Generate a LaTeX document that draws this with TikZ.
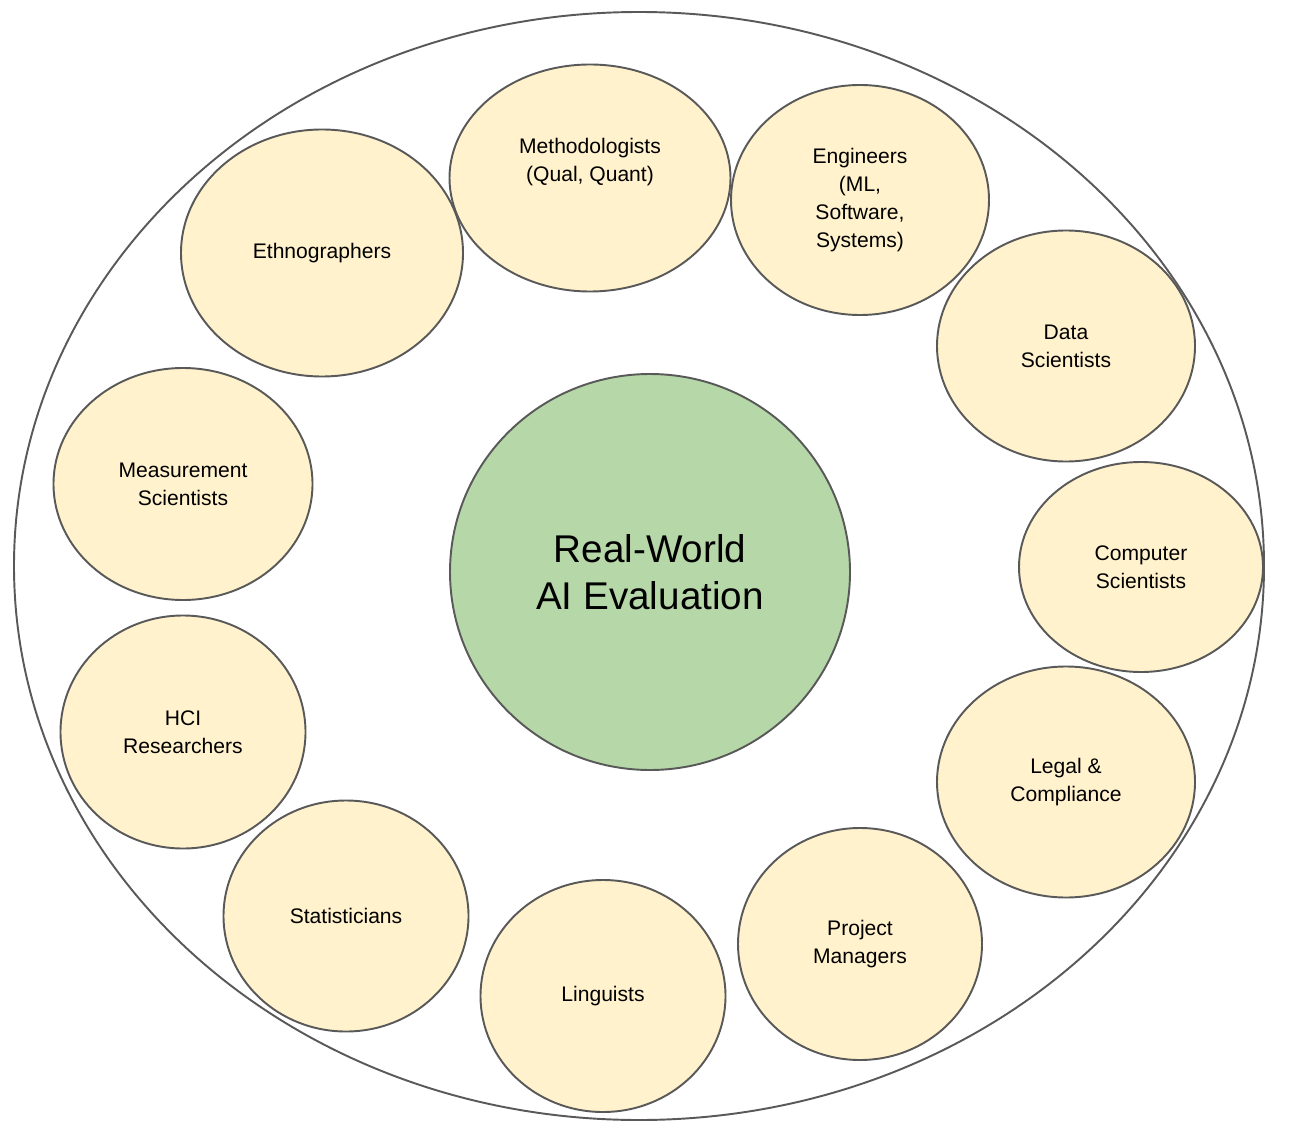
\documentclass[tikz,border=0pt]{standalone}
\usepackage{fontspec}
\setmainfont{Liberation Sans}
\usepackage{xcolor}
\usepackage{tikz}
\usetikzlibrary{shapes.geometric}
\definecolor{rwjaune}{HTML}{FFF2CC}
\definecolor{rwvert}{HTML}{B6D7A8}
\definecolor{rwtrait}{HTML}{595959}

\begin{document}
\begin{tikzpicture}[x=0.02cm,y=-0.02cm,
    metier/.style={ellipse,draw=rwtrait,line width=1.1pt,fill=rwjaune,inner sep=0pt,
      align=center,font=\fontsize{12}{15.8}\selectfont},
    coeur/.style={ellipse,draw=rwtrait,line width=1.1pt,fill=rwvert,inner sep=0pt,
      align=center,font=\fontsize{22}{26.7}\selectfont}]
  \useasboundingbox (0,0) rectangle (1294,1128);
  % grande ellipse
  \draw[rwtrait,line width=1.1pt] (639,566) ellipse [x radius=625,y radius=554];
  % centre
  \node[coeur,minimum width=400*0.02cm,minimum height=396*0.02cm] (eval) at (650,572)
    {Real-World\\AI Evaluation};
  % disciplines : x / y / largeur / hauteur / nom / label
  \foreach \x/\y/\w/\h/\nom/\lab in {%
    590/178/281/227/meth/{Methodologists\\(Qual, Quant)\\\strut},
    860/200/258/230/engi/{Engineers\\(ML,\\Software,\\Systems)},
    1066/346/258/231/data/{Data\\Scientists},
    1141/567/244/210/comp/{Computer\\Scientists},
    1066/782/258/231/legal/{Legal \&\\Compliance},
    860/944/244/232/proj/{Project\\Managers},
    603/996/245/232/ling/{Linguists},
    346/916/245/231/stat/{Statisticians},
    183/732/245/233/hci/{HCI\\Researchers},
    183/484/259/232/meas/{Measurement\\Scientists},
    322/253/282/247/ethno/{Ethnographers}} {
    \node[metier,minimum width=\w*0.02cm,minimum height=\h*0.02cm] (\nom) at (\x,\y) {\lab};
  }
\end{tikzpicture}
\end{document}
